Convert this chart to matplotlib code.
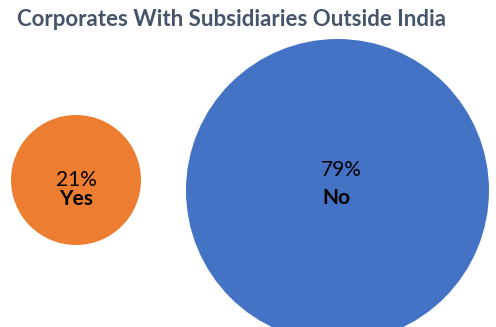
import matplotlib
matplotlib.use("Agg")
import matplotlib.pyplot as plt
from matplotlib.patches import Circle

title = "Corporates With Subsidiaries Outside India"
categories = ["Yes", "No"]
shares = [21, 79]
colors = ["#ED7D31", "#4472C4"]

# layout (pixel coordinates)
centers = [(76, 180), (337.5, 190.5)]
radii = [65, 151.5]
pct_pos = [(76, 180), (341, 170)]
cat_pos = [(76, 199), (336, 198)]

W, H = 496, 327
fig = plt.figure(figsize=(W / 100, H / 100), dpi=100)
ax = fig.add_axes([0, 0, 1, 1])
ax.set_xlim(0, W)
ax.set_ylim(H, 0)
ax.set_aspect("equal")
ax.axis("off")

for cat, v, c, ctr, r, pp, cp in zip(categories, shares, colors, centers, radii, pct_pos, cat_pos):
    ax.add_patch(Circle(ctr, r, facecolor=c, edgecolor="none"))
    ax.text(pp[0], pp[1], f"{v}%", ha="center", va="center", fontsize=15,
            family="Lato", color="black")
    ax.text(cp[0], cp[1], cat, ha="center", va="center", fontsize=15,
            family="Lato", fontweight="bold", color="black")

ax.text(17, 20, title, ha="left", va="center", fontsize=16, family="Lato",
        fontweight="bold", color="#44546A")

fig.savefig("out.png", dpi=100)
